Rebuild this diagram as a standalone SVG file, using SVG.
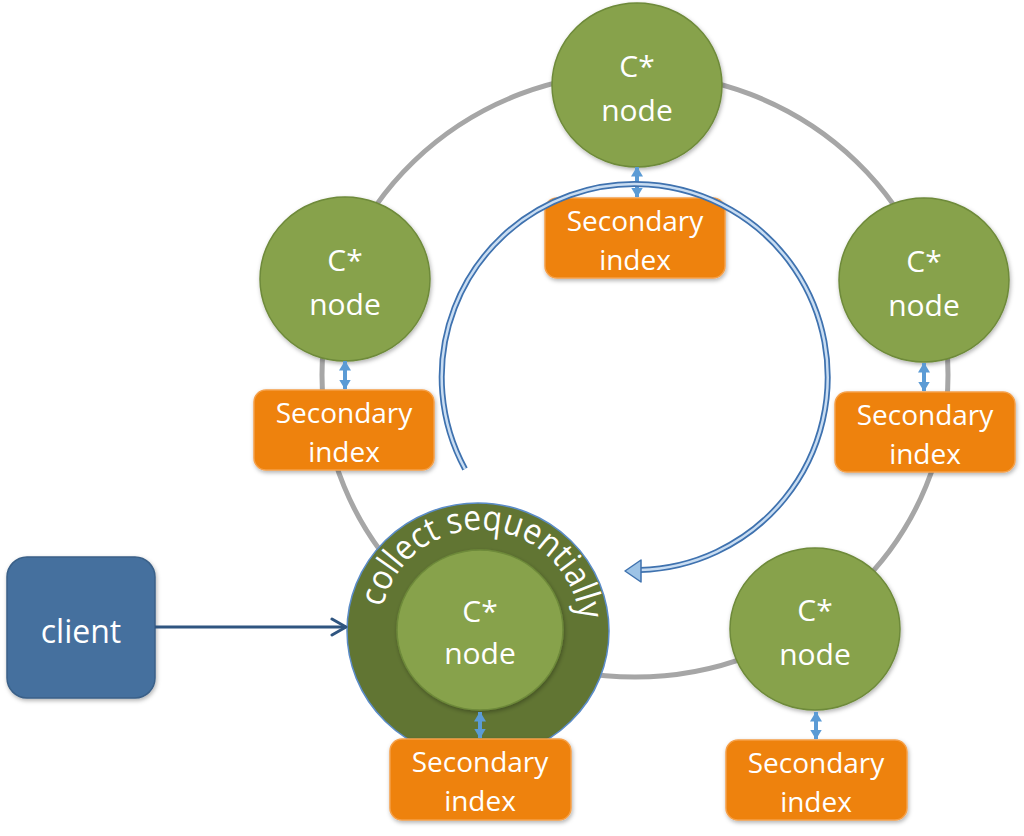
<svg xmlns="http://www.w3.org/2000/svg" width="1024" height="836" viewBox="0 0 1024 836">
<style>
  .node { fill: #87A24B; stroke: #6E8A3A; stroke-width: 1.5; filter: url(#sh); }
  .box { fill: #EE8208; stroke: #F5A04A; stroke-width: 1.5; filter: url(#sh); }
  .t { font-family: "Open Sans", "Liberation Sans", sans-serif; fill: #FFFFFF; text-anchor: middle; }
  .tn { font-size: 30px; }
  .tb { font-size: 28px; }
  .dbl { stroke: #5B9BD5; stroke-width: 4; marker-start: url(#dh); marker-end: url(#dh); }
</style>
<defs>
  <filter id="sh" x="-20%" y="-20%" width="140%" height="140%">
    <feDropShadow dx="1" dy="2" stdDeviation="2" flood-color="#000000" flood-opacity="0.3"/>
  </filter>
  <marker id="dh" viewBox="0 0 10 12" refX="9.5" refY="6" markerWidth="10" markerHeight="12" markerUnits="userSpaceOnUse" orient="auto-start-reverse">
    <path d="M0,0 L10,6 L0,12 z" fill="#5B9BD5"/>
  </marker>
  <marker id="open" viewBox="0 0 18 20" refX="16" refY="10" markerWidth="18" markerHeight="20" markerUnits="userSpaceOnUse" orient="auto">
    <path d="M2,2 L16,10 L2,18" fill="none" stroke="#2F5580" stroke-width="3" stroke-linecap="round" stroke-linejoin="round"/>
  </marker>
  <path id="collectPath" d="M 382.6 607.5 A 100 100 0 0 1 579.5 619.5"/>
</defs>

<g id="ring">
  <ellipse cx="635" cy="375" rx="313" ry="302" fill="none" stroke="#A6A6A6" stroke-width="5"/>
</g>

<g id="client">
  <rect x="7" y="557" width="148" height="141" rx="20" fill="#44709E" stroke="#3A6088" stroke-width="1.5" filter="url(#sh)"/>
  <text class="t" x="81" y="643" font-size="32">client</text>
</g>

<g id="node-top">
  <ellipse class="node" cx="637" cy="85" rx="85" ry="82"/>
  <text class="t tn" x="637" y="77">C*</text>
  <text class="t tn" x="637" y="121">node</text>
</g>
<g id="node-left">
  <ellipse class="node" cx="345" cy="279" rx="85" ry="82"/>
  <text class="t tn" x="345" y="271">C*</text>
  <text class="t tn" x="345" y="315">node</text>
</g>
<g id="node-right">
  <ellipse class="node" cx="924" cy="280" rx="85" ry="82"/>
  <text class="t tn" x="924" y="272">C*</text>
  <text class="t tn" x="924" y="316">node</text>
</g>
<g id="node-bottom-right">
  <ellipse class="node" cx="815" cy="629" rx="85" ry="81"/>
  <text class="t tn" x="815" y="621">C*</text>
  <text class="t tn" x="815" y="665">node</text>
</g>
<g id="node-coordinator">
  <ellipse cx="478" cy="631" rx="131" ry="128" fill="#617533" stroke="#5B8CC8" stroke-width="1.5"/>
  <text class="t" font-size="35" textLength="281" lengthAdjust="spacingAndGlyphs" style="text-anchor:start"><textPath href="#collectPath">collect sequentially</textPath></text>
  <ellipse class="node" cx="480" cy="630" rx="83" ry="80" stroke="#718C3E"/>
  <text class="t tn" x="480" y="622">C*</text>
  <text class="t tn" x="480" y="664">node</text>
</g>

<g id="index-top">
  <rect class="box" x="545" y="198" width="180" height="80" rx="12"/>
  <text class="t tb" x="635" y="231">Secondary</text>
  <text class="t tb" x="635" y="270">index</text>
</g>
<g id="index-left">
  <rect class="box" x="254" y="390" width="180" height="80" rx="12"/>
  <text class="t tb" x="344" y="423">Secondary</text>
  <text class="t tb" x="344" y="462">index</text>
</g>
<g id="index-right">
  <rect class="box" x="835" y="392" width="180" height="80" rx="12"/>
  <text class="t tb" x="925" y="425">Secondary</text>
  <text class="t tb" x="925" y="464">index</text>
</g>
<g id="index-bottom-left">
  <rect class="box" x="390" y="739" width="181" height="81" rx="12"/>
  <text class="t tb" x="480" y="772">Secondary</text>
  <text class="t tb" x="480" y="811">index</text>
</g>
<g id="index-bottom-right">
  <rect class="box" x="726" y="740" width="181" height="80" rx="12"/>
  <text class="t tb" x="816" y="773">Secondary</text>
  <text class="t tb" x="816" y="812">index</text>
</g>

<g id="connectors">
  <line class="dbl" x1="637" y1="167" x2="637" y2="197"/>
  <line class="dbl" x1="345" y1="361" x2="345" y2="389"/>
  <line class="dbl" x1="924" y1="363" x2="924" y2="391"/>
  <line class="dbl" x1="480" y1="712" x2="480" y2="738"/>
  <line class="dbl" x1="816" y1="712" x2="816" y2="739"/>
  <line x1="155" y1="627" x2="346" y2="627" stroke="#2F5580" stroke-width="3" marker-end="url(#open)"/>
  <g id="sequence-arc">
    <path d="M 465 469 A 193 193 0 1 1 640 570" fill="none" stroke="#3F72AF" stroke-width="6"/>
    <path d="M 465 469 A 193 193 0 1 1 640 570" fill="none" stroke="#C9DDF2" stroke-width="2.5"/>
    <path d="M 625 571 L 641 560 L 641 582 Z" fill="#9DC3E6" stroke="#3F72AF" stroke-width="1.5" stroke-linejoin="round"/>
  </g>
</g>
</svg>
